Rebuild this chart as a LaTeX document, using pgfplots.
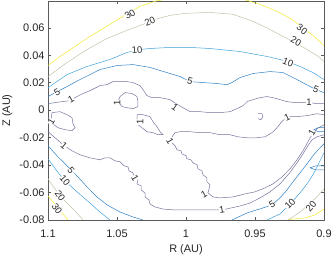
\documentclass[border=0pt]{standalone}
\usepackage{fontspec}
\setmainfont{Liberation Sans}
\usepackage{pgfplots}
\pgfplotsset{compat=1.18}
\definecolor{axgray}{HTML}{262626}
\definecolor{axline}{HTML}{5A5A5A}
\definecolor{cA}{HTML}{74749E}
\definecolor{cB}{HTML}{2C80C6}
\definecolor{cC}{HTML}{3F9FDA}
\definecolor{cD}{HTML}{C2C2A6}
\definecolor{cE}{HTML}{F0EA2A}
\tikzset{lab/.style={font=\fontsize{9.5}{11}\selectfont, fill=white, inner sep=0.2pt, text=black!85}}
\begin{document}
\begin{tikzpicture}
\begin{axis}[
  name=ax,
  scale only axis, width=276bp, height=219bp,
  xmin=0.9, xmax=1.1, x dir=reverse,
  ymin=-0.08, ymax=0.0795,
  clip mode=individual,
  xtick={0.9,0.95,1,1.05,1.1}, xticklabels={0.9,0.95,1,1.05,1.1},
  ytick={-0.08,-0.06,-0.04,-0.02,0,0.02,0.04,0.06},
  yticklabels={-0.08,-0.06,-0.04,-0.02,0,0.02,0.04,0.06},
  /pgf/number format/assume math mode=true,
  tick align=inside, major tick length=2.8bp,
  axis line style={draw=axline, line width=0.5pt},
  tick style={draw=axline, line width=0.5pt},
  ticklabel style={font=\fontsize{11}{13}\selectfont, text=axgray},
  xticklabel style={yshift=-6bp},
  xlabel={R (AU)}, ylabel={Z (AU)},
  label style={font=\fontsize{11}{13}\selectfont, text=axgray, inner sep=0pt},
  xlabel style={at={(axis description cs:0.5,0)}, anchor=north, yshift=-24.5bp},
  ylabel style={at={(axis description cs:0,0.5)}, anchor=south, yshift=35.5bp},
  every axis plot/.append style={line width=0.5pt},
]
% ---- level 30
\addplot[cE] coordinates {(1.1,0.0325) (1.0913,0.0391) (1.0804,0.0464) (1.0696,0.0537) (1.0587,0.0603) (1.0493,0.0661) (1.0420,0.0705) (1.0333,0.0756) (1.0225,0.0793) (1.0152,0.0807)};
\addplot[cE] coordinates {(0.9609,0.0815) (0.9464,0.0771) (0.9341,0.0720) (0.9232,0.0661) (0.9159,0.0603) (0.9080,0.0544) (0.9,0.0471)};
\addplot[cE] coordinates {(1.1,-0.0625) (1.0964,-0.0668) (1.0928,-0.0712) (1.0891,-0.0756) (1.0855,-0.08)};
\addplot[cE] coordinates {(0.9283,-0.0804) (0.9225,-0.0793) (0.9138,-0.0785) (0.9065,-0.0763) (0.9,-0.0720)};
% ---- level 20
\addplot[cD] coordinates {(1.1,0.0245) (1.0862,0.0347) (1.0717,0.0442) (1.0572,0.0522) (1.0428,0.0581) (1.0312,0.0625) (1.0225,0.0661) (1.0116,0.0690) (1.0007,0.0705) (0.9826,0.0712) (0.9659,0.0698) (0.9514,0.0647) (0.9391,0.0588) (0.9297,0.0537) (0.9210,0.0493) (0.9123,0.0442) (0.9051,0.0398) (0.9,0.0354)};
\addplot[cD] coordinates {(1.1,-0.0500) (1.0949,-0.0574) (1.0899,-0.0639) (1.0848,-0.0690) (1.0797,-0.0742) (1.0746,-0.08)};
\addplot[cD] coordinates {(0.9261,-0.08) (0.9174,-0.0742) (0.9116,-0.0690) (0.9058,-0.0639) (0.9,-0.0574)};
% ---- level 10
\addplot[cC] coordinates {(1.1,0.0164) (1.0862,0.0259) (1.0717,0.0318) (1.0551,0.0369) (1.0428,0.0420) (1.0333,0.0442) (1.0261,0.0449) (1.0116,0.0457) (0.9971,0.0457) (0.9826,0.0449) (0.9609,0.0427) (0.9413,0.0391) (0.9319,0.0369) (0.9246,0.0347) (0.9174,0.0318) (0.9080,0.0274) (0.9,0.0223)};
\addplot[cC] coordinates {(1.1,-0.0354) (1.0942,-0.0435) (1.0884,-0.0508) (1.0790,-0.0595) (1.0696,-0.0676) (1.0623,-0.0742) (1.0551,-0.08)};
\addplot[cC] coordinates {(0.9413,-0.08) (0.9319,-0.0756) (0.9246,-0.0683) (0.9174,-0.0603) (0.9123,-0.0537) (0.9080,-0.0471) (0.9043,-0.0398) (0.9,-0.0311)};
% ---- level 5
\addplot[cB] coordinates {(1.1,0.0099) (1.0935,0.0135) (1.0877,0.0164) (1.0768,0.0223) (1.0623,0.0296) (1.0500,0.0325) (1.0384,0.0332) (1.0261,0.0311) (1.0116,0.0267) (1.0043,0.0245) (0.9971,0.0208) (0.9877,0.0201) (0.9775,0.0194) (0.9703,0.0186) (0.9667,0.0201) (0.9609,0.0237) (0.9514,0.0267) (0.9391,0.0281) (0.9297,0.0274) (0.9196,0.0223) (0.9101,0.0172) (0.9058,0.0150) (0.9,0.0128)};
\addplot[cB] coordinates {(1.1,-0.0259) (1.0928,-0.0340) (1.0862,-0.0405) (1.0783,-0.0486) (1.0717,-0.0559) (1.0645,-0.0632) (1.0572,-0.0690) (1.0478,-0.0742) (1.0384,-0.0778) (1.0312,-0.08)};
\addplot[cB] coordinates {(0.9667,-0.08) (0.9558,-0.0749) (0.9442,-0.0712) (0.9377,-0.0690) (0.9319,-0.0639) (0.9268,-0.0581) (0.9225,-0.0522) (0.9174,-0.0457) (0.9123,-0.0391) (0.9080,-0.0332) (0.9043,-0.0289) (0.9,-0.0245)};
\addplot[cB] coordinates {(0.9,-0.0128) (0.9043,-0.0128) (0.9072,-0.0142) (0.9043,-0.0157) (0.9,-0.0157)};
\addplot[cB] coordinates {(0.9,-0.0405) (0.9058,-0.0405) (0.9101,-0.0420) (0.9058,-0.0435) (0.9,-0.0435)};
% ---- level 1
\addplot[cA] coordinates {(1.1,0.0047) (1.0949,0.0055) (1.0899,0.0062) (1.0841,0.0069) (1.0790,0.0099) (1.0746,0.0121) (1.0696,0.0142) (1.0623,0.0179) (1.0572,0.0186) (1.0529,0.0208) (1.0478,0.0208) (1.0428,0.0208) (1.0384,0.0201) (1.0333,0.0179) (1.0312,0.0150) (1.0283,0.0106) (1.0246,0.0091) (1.0188,0.0091) (1.0116,0.0077) (1.0072,0.0047) (1.0022,0.0018) (0.9971,-0.0011) (0.9899,-0.0011) (0.9826,-0.0018) (0.9754,-0.0018) (0.9681,-0.0011) (0.9630,0.0011) (0.9587,0.0033) (0.9558,0.0062) (0.9514,0.0077) (0.9464,0.0091) (0.9413,0.0099) (0.9370,0.0091) (0.9319,0.0077) (0.9268,0.0062) (0.9210,0.0055) (0.9152,0.0055) (0.9101,0.0055) (0.9051,0.0047) (0.9,0.0047)};
\addplot[cA] coordinates {(1.0971,-0.0018) (1.0913,-0.0011) (1.0862,-0.0033) (1.0826,-0.0055) (1.0819,-0.0099) (1.0804,-0.0128) (1.0826,-0.0150) (1.0877,-0.0142) (1.0928,-0.0128) (1.0957,-0.0106) (1.0978,-0.0069) (1.0971,-0.0018)};
\addplot[cA] coordinates {(1.0478,0.0099) (1.0442,0.0128) (1.0391,0.0121) (1.0355,0.0099) (1.0348,0.0062) (1.0348,0.0026) (1.0384,0.0011) (1.0428,0.0018) (1.0464,0.0026) (1.0493,0.0062) (1.0478,0.0099)};
\addplot[cA] coordinates {(1.0355,-0.0033) (1.0312,-0.0033) (1.0261,-0.0047) (1.0239,-0.0084) (1.0210,-0.0121) (1.0188,-0.0157) (1.0167,-0.0179) (1.0203,-0.0179) (1.0239,-0.0164) (1.0283,-0.0157) (1.0319,-0.0128) (1.0348,-0.0106) (1.0355,-0.0069) (1.0355,-0.0033)};
\addplot[cA] coordinates {(0.9478,-0.0026) (0.9449,-0.0026) (0.9442,-0.0047) (0.9457,-0.0069) (0.9478,-0.0062)};
\addplot[cA] coordinates {(0.9,-0.0033) (0.9051,-0.0026) (0.9123,-0.0040) (0.9196,-0.0047) (0.9246,-0.0047) (0.9283,-0.0062) (0.9312,-0.0091) (0.9341,-0.0128) (0.9377,-0.0164) (0.9428,-0.0194) (0.9486,-0.0201) (0.9558,-0.0201) (0.9623,-0.0194) (0.9681,-0.0179) (0.9754,-0.0179) (0.9826,-0.0164) (0.9899,-0.0164) (0.9971,-0.0157) (1.0043,-0.0157) (1.0080,-0.0164) (1.0101,-0.0194) (1.0109,-0.0230) (1.0080,-0.0259) (1.0065,-0.0289) (1.0036,-0.0296) (1.0029,-0.0318) (1.0000,-0.0332) (0.9993,-0.0354) (0.9964,-0.0362) (0.9949,-0.0384) (0.9920,-0.0398) (0.9913,-0.0427) (0.9884,-0.0442) (0.9877,-0.0471) (0.9848,-0.0493) (0.9848,-0.0522) (0.9826,-0.0544) (0.9833,-0.0574) (0.9841,-0.0603) (0.9804,-0.0632) (0.9754,-0.0639) (0.9659,-0.0632) (0.9572,-0.0610) (0.9500,-0.0595) (0.9428,-0.0566) (0.9370,-0.0537) (0.9304,-0.0486) (0.9246,-0.0427) (0.9196,-0.0362) (0.9152,-0.0296) (0.9116,-0.0230) (0.9087,-0.0179) (0.9051,-0.0135) (0.9,-0.0106)};
\addplot[cA] coordinates {(1.1,-0.0157) (1.0949,-0.0201) (1.0899,-0.0245) (1.0826,-0.0296) (1.0768,-0.0325) (1.0696,-0.0347) (1.0623,-0.0362) (1.0587,-0.0347) (1.0551,-0.0347) (1.0514,-0.0369) (1.0478,-0.0376) (1.0449,-0.0405) (1.0420,-0.0413) (1.0413,-0.0442) (1.0384,-0.0457) (1.0377,-0.0486) (1.0348,-0.0508) (1.0355,-0.0537) (1.0326,-0.0552) (1.0326,-0.0581) (1.0297,-0.0603) (1.0297,-0.0632) (1.0268,-0.0654) (1.0261,-0.0683) (1.0225,-0.0705) (1.0167,-0.0720) (1.0080,-0.0727) (0.9971,-0.0727) (0.9848,-0.0727) (0.9739,-0.0727) (0.9609,-0.0698) (0.9536,-0.0676) (0.9464,-0.0639) (0.9391,-0.0595) (0.9319,-0.0537) (0.9254,-0.0464) (0.9196,-0.0384) (0.9152,-0.0318) (0.9116,-0.0259) (0.9087,-0.0216) (0.9051,-0.0194) (0.9,-0.0179)};
% ---- labels
\node[lab, rotate=31] at (axis cs:1.0406,0.0698) {30};
\node[lab, rotate=-36] at (axis cs:0.9159,0.0588) {30};
\node[lab, rotate=-55] at (axis cs:1.0935,-0.0720) {30};
\node[lab, rotate=23] at (axis cs:1.0261,0.0647) {20};
\node[lab, rotate=-28] at (axis cs:0.9203,0.0500) {20};
\node[lab, rotate=-55] at (axis cs:1.0913,-0.0625) {20};
\node[lab, rotate=50] at (axis cs:0.9094,-0.0698) {20};
\node[lab, rotate=5] at (axis cs:1.0355,0.0437) {10};
\node[lab, rotate=-22] at (axis cs:0.9261,0.0347) {10};
\node[lab, rotate=-50] at (axis cs:1.0877,-0.0515) {10};
\node[lab, rotate=45] at (axis cs:0.9246,-0.0683) {10};
\node[lab, rotate=30] at (axis cs:1.0935,0.0128) {5};
\node[lab, rotate=-15] at (axis cs:0.9971,0.0212) {5};
\node[lab, rotate=-20] at (axis cs:0.9058,0.0150) {5};
\node[lab, rotate=-50] at (axis cs:1.0833,-0.0442) {5};
\node[lab, rotate=30] at (axis cs:0.9377,-0.0690) {5};
\node[lab, rotate=30] at (axis cs:1.0833,0.0077) {1};
\node[lab, rotate=-35] at (axis cs:1.0080,0.0018) {1};
\node[lab, rotate=0] at (axis cs:0.9109,0.0055) {1};
\node[lab, rotate=60] at (axis cs:1.0978,-0.0084) {1};
\node[lab, rotate=90] at (axis cs:1.0500,0.0055) {1};
\node[lab, rotate=90] at (axis cs:1.0333,-0.0084) {1};
\node[lab, rotate=25] at (axis cs:0.9268,-0.0055) {1};
\node[lab, rotate=-60] at (axis cs:1.0116,-0.0223) {1};
\node[lab, rotate=30] at (axis cs:0.9870,-0.0610) {1};
\node[lab, rotate=-40] at (axis cs:1.0884,-0.0259) {1};
\node[lab, rotate=-60] at (axis cs:1.0370,-0.0493) {1};
\node[lab, rotate=10] at (axis cs:0.9739,-0.0727) {1};
\node[lab, rotate=60] at (axis cs:0.9087,-0.0165) {1};
\end{axis}
\pgfresetboundingbox
\path (ax.south west) ++(-48bp,-36bp) rectangle ++(332bp,256bp);
\end{tikzpicture}
\end{document}
